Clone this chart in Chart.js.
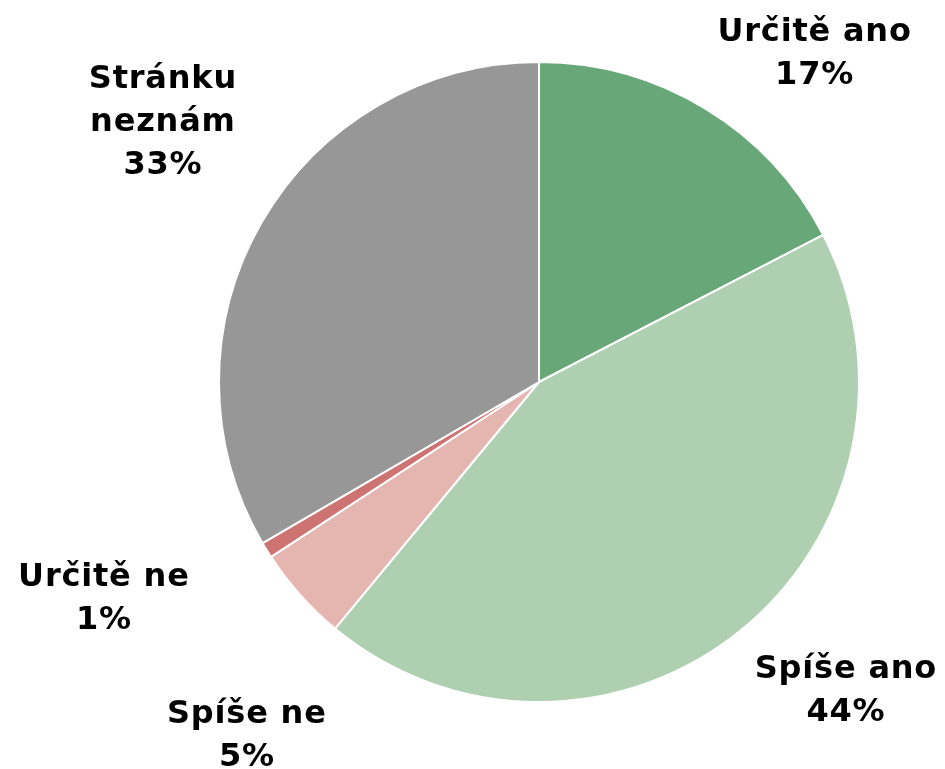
<!DOCTYPE html>
<html>
<head>
<meta charset="utf-8">
<script src="https://cdn.jsdelivr.net/npm/chart.js@4.4.0/dist/chart.umd.min.js"></script>
<style>
  html, body { margin: 0; padding: 0; background: #fff; }
  #wrap { width: 945px; height: 769px; }
</style>
</head>
<body>
<div id="wrap"><canvas id="myChart" width="945" height="769"></canvas></div>
<script>
const categories = ['Určitě ano', 'Spíše ano', 'Spíše ne', 'Určitě ne', 'Stránku neznám'];
const labelLines = [['Určitě ano'], ['Spíše ano'], ['Spíše ne'], ['Určitě ne'], ['Stránku', 'neznám']];
const shares = [17.4, 43.6, 4.8, 0.8, 33.4];
const colors = ['#68a878', '#aed0b1', '#e5b5b0', '#cd7472', '#979797'];

// label placement: radius factor and small angle nudge (degrees) per slice
const labelRadius = [1.34, 1.355, 1.433, 1.52, 1.433];
const labelNudge = [8.5, -6.0, -8.5, 5.4, 4.8];

const outerLabels = {
    id: 'outerLabels',
    afterDatasetsDraw(chart) {
        const ctx = chart.ctx;
        const meta = chart.getDatasetMeta(0);
        const total = shares.reduce((a, b) => a + b, 0);
        ctx.save();
        ctx.font = 'bold 32px "DejaVu Sans"';
        ctx.letterSpacing = '0.8px';
        ctx.fillStyle = '#000';
        ctx.textAlign = 'center';
        ctx.textBaseline = 'middle';
        meta.data.forEach((arc, i) => {
            const p = arc.getProps(['x', 'y', 'startAngle', 'endAngle', 'outerRadius'], true);
            const mid = (p.startAngle + p.endAngle) / 2 + labelNudge[i] * Math.PI / 180;
            const r = p.outerRadius * labelRadius[i];
            const cx = p.x + Math.cos(mid) * r;
            const cy = p.y + Math.sin(mid) * r + 2;
            const lines = labelLines[i].concat([Math.round(shares[i] / total * 100) + '%']);
            const lh = 43;
            lines.forEach((t, k) => {
                ctx.fillText(t, cx + 1, cy + (k - (lines.length - 1) / 2) * lh);
            });
        });
        ctx.restore();
    }
};

const ctx = document.getElementById('myChart').getContext('2d');
const chart = new Chart(ctx, {
    type: 'pie',
    data: {
        labels: categories,
        datasets: [{
            data: shares,
            backgroundColor: colors,
            borderColor: '#ffffff',
            borderWidth: 2
        }]
    },
    options: {
        responsive: false,
        animation: false,
        layout: { padding: { top: 61, bottom: 66, left: 218, right: 85 } },
        plugins: {
            legend: { display: false },
            tooltip: { enabled: false }
        }
    },
    plugins: [outerLabels]
});
</script>
</body>
</html>
